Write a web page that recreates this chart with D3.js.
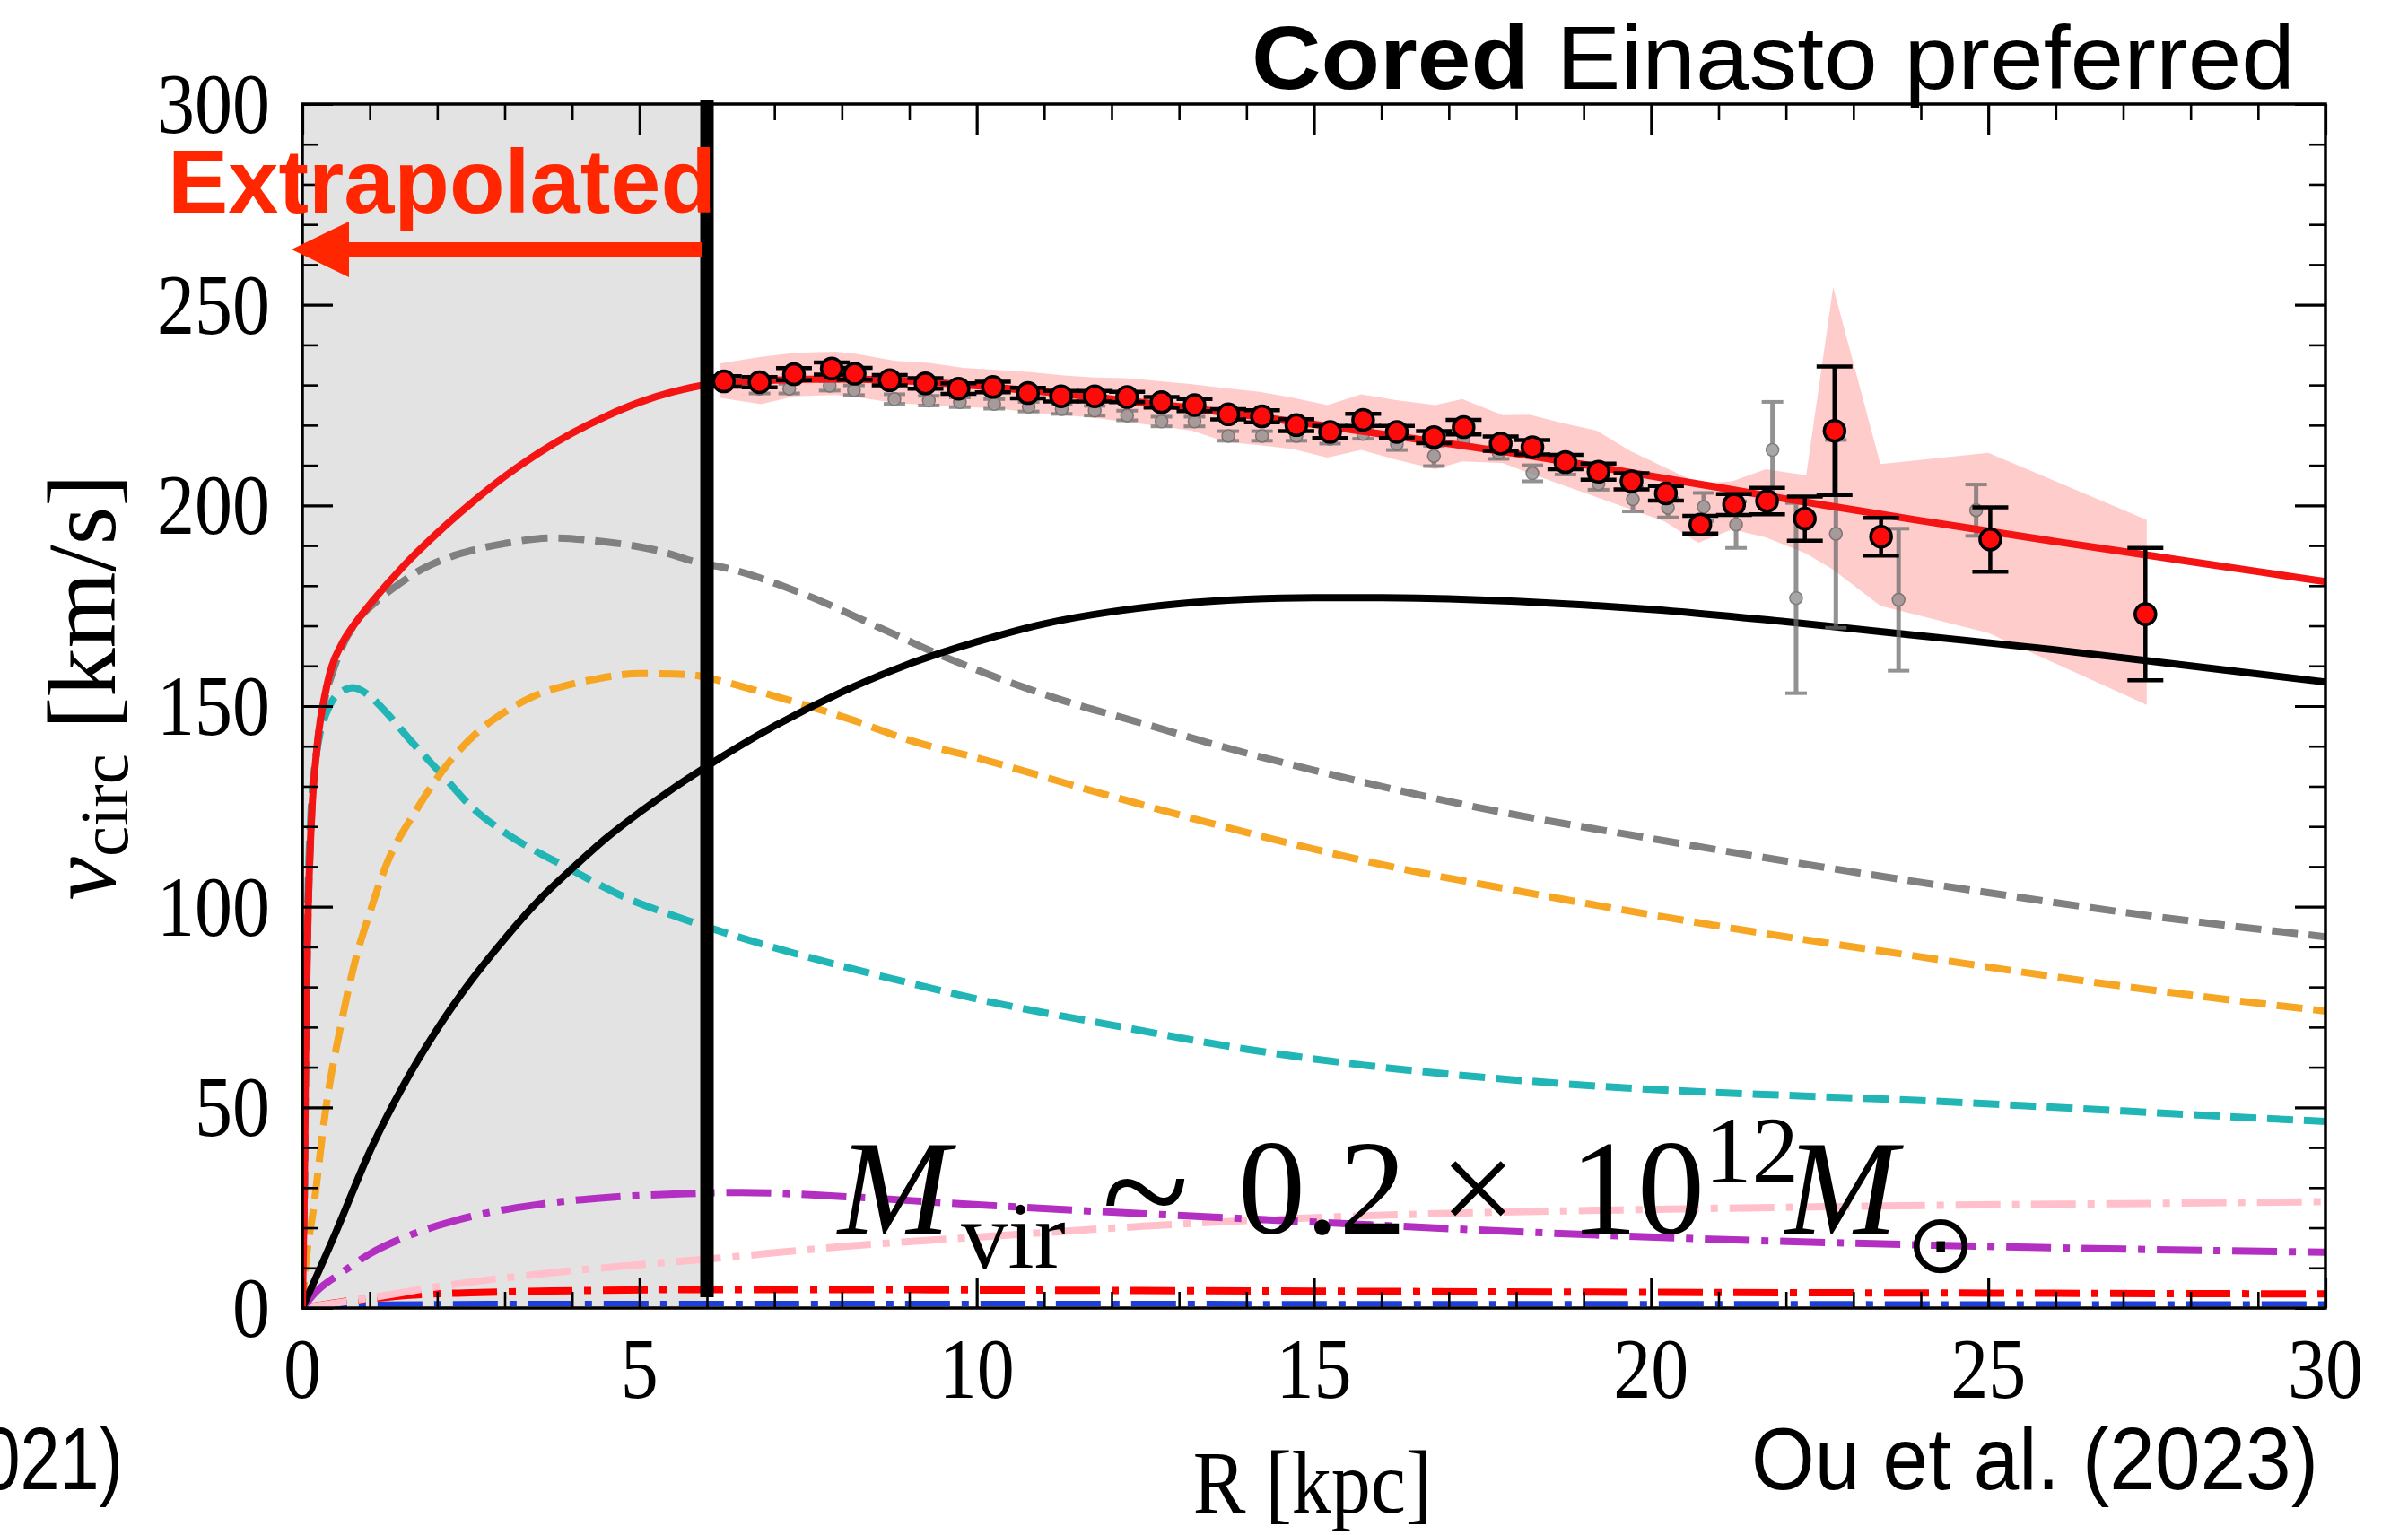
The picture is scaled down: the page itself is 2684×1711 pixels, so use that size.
<!DOCTYPE html>
<html><head><meta charset="utf-8">
<script src="https://cdn.jsdelivr.net/npm/d3@7"></script>
<style>html,body{margin:0;padding:0;background:#fff;} svg{display:block;}</style>
</head><body>
<svg id="chart" width="2684" height="1711"></svg>
<script>
// ---------------- DATA ----------------
// Model curves (R in kpc, v in km/s)
const rTotal = [0,0.03,0.05,0.08,0.13,0.22,0.35,0.44,0.57,0.8,1.0,1.5,2.0,2.5,3.0,3.5,4.0,4.5,5.0,5.5,6,7,8,9,10,11,12,13,14,15,16,17,18,19,20,21,22,23,24,25,26,27,28,29,30];
const vTotal = [0,30,65,95,120,140,154,160,165,171,175.3,184.9,193.1,200.5,207.2,213,218,222.2,225.7,228.3,230.1,231.2,231.5,231,229.8,228.3,226.5,224.6,222.5,220.2,217.8,215.4,212.9,210.2,207.3,204.5,201.6,198.9,196.2,193.6,191,188.5,186,183.5,181];

const rHalo = [0,0.5,1,1.5,2,2.5,3,3.5,4,4.5,5,5.5,6,7,8,9,10,11,12,13,14,15,16,17,18,19,20,22,24,26,28,30];
const vHalo = [0,19,39,55.5,69.5,81.5,92,101.5,109.5,117,123.5,129.5,135,145,153.5,160.5,166,170.5,173.5,175.5,176.6,177,177,176.7,176.1,175.2,174.1,171,167.5,164,160,156];

const rBary = [0,0.03,0.05,0.08,0.13,0.22,0.35,0.44,0.57,0.8,1.06,1.4,1.68,2.1,2.57,3.0,3.72,4.34,5.23,5.94,6.2,7.42,8.5,9.56,11.24,12.5,13.53,15,17.5,20,22.5,25,27.5,30];
const vBary = [0,30,65,95,120,140,153,158,164,171,175.5,180,183.2,186.6,189,190.5,191.9,191.2,188.9,185.5,184.7,178,170,162,151.6,145.5,140.4,134,124.5,117,110,103.5,97.5,92.5];

const rDisk = [0,0.04,0.17,0.35,0.57,0.79,1.0,1.24,1.68,2.12,2.66,3.0,3.45,4.0,4.34,5.0,5.5,5.89,6.2,7,8.18,9,10.09,12,14,16,18,20,22,24,26,28,30];
const vDisk = [0,9,25.3,49.9,70.4,86.9,98.5,110.2,123.8,134.8,144.4,148.5,152.6,155.5,156.7,158.1,158,157.5,156.3,152.5,146.4,141.5,136.7,127.5,118.5,110.5,104,98,92.5,87.5,82.5,78,74];

const rBulge = [0,0.03,0.05,0.08,0.13,0.2,0.26,0.35,0.44,0.6,0.75,1.0,1.24,1.6,2.12,2.5,3.01,3.5,3.9,4.4,4.79,5.5,6.12,7,8,9,10,12,14,16,18,20,22,24,26,28,30];
const vBulge = [0,30,65,100,124,137,143,148,151.2,153.8,154.6,152.5,148.5,141.5,132,125,118.4,113.5,110,105.5,102.3,97.8,94.3,89.8,85.2,81,77,70.5,64.5,60,56.8,54.5,53,51.7,50,48.2,46.5];

const rGas = [0,0.2,0.6,1.0,1.5,2.0,2.5,3.5,4.5,5.7,6.5,8,9.74,12,13.58,16,18.19,21,24.34,27,30];
const vGas = [0,4,9,13.5,17.5,20.5,22.8,25.8,27.5,28.5,28.8,27.8,26.0,23.9,22.6,20.6,18.9,17.1,15.6,14.7,13.9];

const rPink = [0,1,2,3,4,5,6,8,10.5,12,15.12,17,19.73,22,24.34,27,30];
const vPink = [0,2.5,5.3,7.5,9.3,10.8,12.2,15.3,18.2,19.9,22.6,23.6,24.5,25.1,25.6,26.0,26.5];

const rRedDD = [0,0.3,0.6,1,1.6,2.5,4,6,8,10,15,20,25,30];
const vRedDD = [0,0.8,1.6,2.3,3.2,3.8,4.3,4.6,4.6,4.5,4.2,3.9,3.7,3.5];

const rBlue = [0,0.3,1,3,10,20,30];
const vBlue = [0,0.5,0.9,1.1,1.1,1.05,1.0];

// Observed rotation curve (red points)
const obsR = [6.25,6.78,7.29,7.85,8.19,8.71,9.24,9.73,10.24,10.76,11.25,11.75,12.23,12.74,13.23,13.73,14.23,14.74,15.24,15.73,16.23,16.78,17.22,17.77,18.24,18.73,19.22,19.71,20.22,20.73,21.23,21.72,22.28,22.72,23.41,25.03,27.33];
const obsV = [230.9,230.7,232.7,234.1,232.8,231.2,230.4,229.1,229.5,228.0,227.2,227.2,227.0,225.7,225.0,222.7,222.2,220.0,218.3,221.3,218.3,217.0,219.5,215.4,214.5,210.8,208.4,206.0,203.0,195.2,200.2,201.1,196.7,218.6,192.2,191.5,172.9];
const obsErr = [1.3,1.3,1.5,1.5,1.5,1.3,1.3,1.3,1.3,1.3,1.3,1.3,1.3,1.3,1.5,1.3,1.5,1.5,1.5,1.5,1.5,1.5,1.8,1.8,1.8,1.8,2,2,1.8,2.2,2.6,3.3,5.5,16,4.7,8,16.5];

// Comparison rotation curve (grey points)
const grayR = [6.78,7.22,7.82,8.18,8.78,9.29,9.75,10.26,10.77,11.26,11.75,12.23,12.74,13.23,13.73,14.23,14.74,15.24,15.73,16.23,16.78,17.22,17.74,18.24,18.73,19.22,19.73,20.25,20.78,21.26,21.80,22.15,22.74,23.67,24.82];
const grayV = [229.1,229.1,229.8,228.7,226.5,226.1,225.7,225.3,224.6,224.0,223.6,222.4,220.9,220.9,217.3,217.3,217.3,216.6,217.8,215.3,212.3,216.4,213.1,208.0,209.2,205.4,201.5,199.4,199.6,195.2,213.8,176.9,192.9,176.5,198.8];
const grayErr = [1.2,1.2,1.2,1.2,1.2,1.2,1.2,1.2,1.2,1.2,1.2,1.2,1.2,1.2,1.2,1.2,1.2,1.2,1.2,1.5,2.5,1.5,1.5,2,1.5,1.5,3,2.4,3.5,5.8,12,23.7,23.4,17.7,6.4];

// Uncertainty band of the observed curve
const bandR  = [6.2,6.8,7.3,7.9,8.2,8.8,9.3,9.8,10.3,10.8,11.3,11.75,12.2,12.7,13.2,13.7,14.2,14.7,15.2,15.7,16.2,16.8,17.2,17.8,18.2,18.7,19.2,19.7,20.2,20.7,21.2,21.7,22.3,22.7,23.4,25.0,27.35];
const bandHi = [235.4,237,238,238.3,237.8,236,235.5,234.3,233.8,233.2,232.4,231.9,231.7,231,230.2,229.2,228.3,226.8,225,227.7,226.3,225,226.5,222.5,222.6,220.5,218.6,213.5,209.5,205.5,206,209,207.5,254.4,210.3,213.1,196.4];
const bandLo = [226.8,225.2,227.2,227.5,227,225.5,225,224.5,224.2,223.1,222.5,221.8,220.8,219.8,218.6,215.8,215,214,211.9,213.8,211.5,209,211,210.5,208,205,202,199,196,190.7,194,192,188,184,175,168.2,150.3];

// Axis ticks
const xTickValues = [0,5,10,15,20,25,30];
const xTickLabels = ["0","5","10","15","20","25","30"];
const yTickValues = [0,50,100,150,200,250,300];
const yTickLabels = ["0","50","100","150","200","250","300"];
const xMinorTicks = d3.range(0,31,1).filter(v => v % 5 !== 0);
const yMinorTicks = d3.range(0,301,10).filter(v => v % 50 !== 0);

// Annotations
const extrapolatedLimitR = 6;
const arrowStartR = 5.92, arrowEndR = -0.16, arrowV = 263.8;

// ---------------- CHART ----------------
const svg = d3.select('#chart');
const M = {left:337, right:2592, top:116, bottom:1458};
const x = d3.scaleLinear().domain([0,30]).range([M.left, M.right]);
const y = d3.scaleLinear().domain([0,300]).range([M.bottom, M.top]);

svg.append('rect').attr('width',2684).attr('height',1711).attr('fill','#fff');

const defs = svg.append('defs');
defs.append('clipPath').attr('id','plotclip').append('rect')
  .attr('x',M.left).attr('y',M.top).attr('width',M.right-M.left).attr('height',M.bottom-M.top);

const plot = svg.append('g').attr('clip-path','url(#plotclip)');

// shaded extrapolated region
plot.append('rect').attr('x',x(0)).attr('y',y(300)).attr('width',x(extrapolatedLimitR)-x(0)).attr('height',y(0)-y(300))
  .attr('fill','#e3e3e3');

// band
const bandData = bandR.map((r,i)=>({r, lo:bandLo[i], hi:bandHi[i]}));
plot.append('path').datum(bandData)
  .attr('d', d3.area().x(d=>x(d.r)).y0(d=>y(d.lo)).y1(d=>y(d.hi)))
  .attr('fill','#ff0000').attr('fill-opacity',0.2);

function curve(rs, vs, color, width, dash){
  const data = rs.map((r,i)=>[r, vs[i]]);
  plot.append('path').datum(data)
    .attr('d', d3.line().x(d=>x(d[0])).y(d=>y(d[1])).curve(d3.curveMonotoneX))
    .attr('fill','none').attr('stroke',color).attr('stroke-width',width)
    .attr('stroke-dasharray', dash || null).attr('stroke-linejoin','round');
}
const dashed = '29,12';
const dashdot = '50,13,8,13';
curve(rBlue, vBlue, '#1f3fdb', 6, dashdot);
curve(rRedDD, vRedDD, '#ff0000', 8, dashdot);
curve(rPink, vPink, '#ffc0cb', 8, dashdot);
curve(rGas, vGas, '#b22fc2', 8, dashdot);
curve(rBulge, vBulge, '#22b5b5', 8, dashed);
curve(rDisk, vDisk, '#f7a623', 8, dashed);
curve(rBary, vBary, '#808080', 8, dashed);
curve(rHalo, vHalo, '#000000', 8, null);

// grey comparison points
const grayData = grayR.map((r,i)=>({r, v:grayV[i], e:grayErr[i]}));
const gg = plot.append('g').attr('opacity',0.75);
gg.selectAll('line.bar').data(grayData).enter().append('line')
  .attr('x1',d=>x(d.r)).attr('x2',d=>x(d.r)).attr('y1',d=>y(d.v-d.e)).attr('y2',d=>y(d.v+d.e))
  .attr('stroke','#6e6e6e').attr('stroke-width',5);
['lo','hi'].forEach(k=>{
  gg.selectAll('line.cap'+k).data(grayData).enter().append('line')
    .attr('x1',d=>x(d.r)-12).attr('x2',d=>x(d.r)+12)
    .attr('y1',d=>y(k==='lo'?d.v-d.e:d.v+d.e)).attr('y2',d=>y(k==='lo'?d.v-d.e:d.v+d.e))
    .attr('stroke','#6e6e6e').attr('stroke-width',4);
});
gg.selectAll('circle').data(grayData).enter().append('circle')
  .attr('cx',d=>x(d.r)).attr('cy',d=>y(d.v)).attr('r',7)
  .attr('fill','#8a8a8a').attr('stroke','#555').attr('stroke-width',1.5);

// total model
curve(rTotal, vTotal, '#f41414', 8, null);

// red observed points
const obsData = obsR.map((r,i)=>({r, v:obsV[i], e:obsErr[i]}));
const og = plot.append('g');
og.selectAll('line.bar').data(obsData).enter().append('line')
  .attr('x1',d=>x(d.r)).attr('x2',d=>x(d.r)).attr('y1',d=>y(d.v-d.e)).attr('y2',d=>y(d.v+d.e))
  .attr('stroke','#000').attr('stroke-width',4.5);
['lo','hi'].forEach(k=>{
  og.selectAll('line.cap'+k).data(obsData).enter().append('line')
    .attr('x1',d=>x(d.r)-20).attr('x2',d=>x(d.r)+20)
    .attr('y1',d=>y(k==='lo'?d.v-d.e:d.v+d.e)).attr('y2',d=>y(k==='lo'?d.v-d.e:d.v+d.e))
    .attr('stroke','#000').attr('stroke-width',4.5);
});
og.selectAll('circle').data(obsData).enter().append('circle')
  .attr('cx',d=>x(d.r)).attr('cy',d=>y(d.v)).attr('r',11.5)
  .attr('fill','#ff0a0a').attr('stroke','#000').attr('stroke-width',3.5);

// Mvir annotation
const mt = svg.append('text').attr('font-family','Liberation Serif, Times New Roman, serif').attr('fill','#000');
mt.append('tspan').attr('x',934).attr('y',1375).attr('font-size',150).attr('font-style','italic').text('M');
mt.append('tspan').attr('x',1071).attr('y',1413).attr('font-size',105).text('vir');
mt.append('tspan').attr('x',1228).attr('y',1388).attr('font-size',180).text('~');
mt.append('tspan').attr('x',1380).attr('y',1375).attr('font-size',150).text('0.2');
mt.append('tspan').attr('x',1605).attr('y',1375).attr('font-size',150).text('×');
mt.append('tspan').attr('x',1750).attr('y',1375).attr('font-size',150).text('10');
mt.append('tspan').attr('x',1900).attr('y',1318).attr('font-size',105).text('12');
mt.append('tspan').attr('x',1990).attr('y',1375).attr('font-size',150).attr('font-style','italic').text('M');
svg.append('text').attr('x',2163).attr('y',1418).attr('text-anchor','middle')
  .attr('font-family','DejaVu Sans, sans-serif').attr('font-size',92).attr('fill','#000').text('⊙');

// vertical limit line
svg.append('line').attr('x1',x(extrapolatedLimitR)).attr('x2',x(extrapolatedLimitR))
  .attr('y1',M.top-5).attr('y2',M.bottom-12).attr('stroke','#000').attr('stroke-width',15);

// axes ticks
function ticks(gen, tr, w){
  const g = svg.append('g').attr('transform',tr).call(gen);
  g.select('.domain').remove();
  g.selectAll('text').remove();
  g.selectAll('line').attr('stroke','#000').attr('stroke-width',w);
}
ticks(d3.axisBottom(x).tickValues(xTickValues).tickSize(-34), `translate(0,${M.bottom})`, 3.2);
ticks(d3.axisBottom(x).tickValues(xMinorTicks).tickSize(-18), `translate(0,${M.bottom})`, 2.6);
ticks(d3.axisTop(x).tickValues(xTickValues).tickSize(-34), `translate(0,${M.top})`, 3.2);
ticks(d3.axisTop(x).tickValues(xMinorTicks).tickSize(-18), `translate(0,${M.top})`, 2.6);
ticks(d3.axisLeft(y).tickValues(yTickValues).tickSize(-34), `translate(${M.left},0)`, 3.2);
ticks(d3.axisLeft(y).tickValues(yMinorTicks).tickSize(-18), `translate(${M.left},0)`, 2.6);
ticks(d3.axisRight(y).tickValues(yTickValues).tickSize(-34), `translate(${M.right},0)`, 3.2);
ticks(d3.axisRight(y).tickValues(yMinorTicks).tickSize(-18), `translate(${M.right},0)`, 2.6);

svg.append('rect').attr('x',M.left).attr('y',M.top).attr('width',M.right-M.left).attr('height',M.bottom-M.top)
  .attr('fill','none').attr('stroke','#000').attr('stroke-width',3.5);

// tick labels
const serif = 'Liberation Serif, Times New Roman, serif';
svg.selectAll('text.xtl').data(xTickValues).enter().append('text')
  .attr('transform',(d)=>`translate(${x(d)},1558) scale(1,1.13)`)
  .attr('text-anchor','middle').attr('font-family',serif).attr('font-size',84).attr('fill','#000')
  .text((d,i)=>xTickLabels[i]);
svg.selectAll('text.ytl').data(yTickValues).enter().append('text')
  .attr('transform',(d)=>`translate(301,${y(d)+32}) scale(1,1.13)`)
  .attr('text-anchor','end').attr('font-family',serif).attr('font-size',84).attr('fill','#000')
  .text((d,i)=>yTickLabels[i]);

// axis labels
svg.append('text').attr('transform','translate(1463,1686) scale(1,1.13)')
  .attr('text-anchor','middle').attr('font-family',serif).attr('font-size',88).attr('fill','#000')
  .text('R [kpc]');
const yl = svg.append('text').attr('transform','translate(128,766) rotate(-90)')
  .attr('text-anchor','middle').attr('font-family',serif).attr('font-size',108).attr('fill','#000')
  .attr('textLength',475).attr('lengthAdjust','spacingAndGlyphs');
yl.append('tspan').attr('font-style','italic').text('v');
yl.append('tspan').attr('font-size',76).attr('dy',14).text('circ');
yl.append('tspan').attr('dy',-14).text(' [km/s]');

// Extrapolated label + arrow
const red2 = '#ff2600';
svg.append('text').attr('x',187).attr('y',237).attr('font-family','Liberation Sans, Arial, sans-serif')
  .attr('font-weight','bold').attr('font-size',100).attr('fill',red2)
  .attr('textLength',611).attr('lengthAdjust','spacingAndGlyphs').text('Extrapolated');
const headLen = 64, headHalf = 31;
svg.append('line').attr('x1',x(arrowStartR)).attr('x2',x(arrowEndR)+headLen-2)
  .attr('y1',y(arrowV)).attr('y2',y(arrowV)).attr('stroke',red2).attr('stroke-width',16);
svg.append('path').attr('fill',red2)
  .attr('d',`M${x(arrowEndR)},${y(arrowV)} L${x(arrowEndR)+headLen},${y(arrowV)-headHalf} L${x(arrowEndR)+headLen},${y(arrowV)+headHalf} Z`);

// Titles / credits
const sans = 'Liberation Sans, Arial, sans-serif';
const tt = svg.append('text').attr('x',1395).attr('y',99).attr('font-family',sans).attr('font-size',100).attr('fill','#000')
  .attr('textLength',1163).attr('lengthAdjust','spacingAndGlyphs');
tt.append('tspan').attr('font-weight','bold').text('Cored');
tt.append('tspan').text(' Einasto preferred');
svg.append('text').attr('x',1952).attr('y',1660).attr('font-family',sans).attr('font-size',98).attr('fill','#000')
  .attr('textLength',632).attr('lengthAdjust','spacingAndGlyphs').text('Ou et al. (2023)');
svg.append('text').attr('x',-92).attr('y',1660).attr('font-family',sans).attr('font-size',98).attr('fill','#000')
  .attr('textLength',229).attr('lengthAdjust','spacingAndGlyphs').text('(2021)');
</script>
</body></html>
